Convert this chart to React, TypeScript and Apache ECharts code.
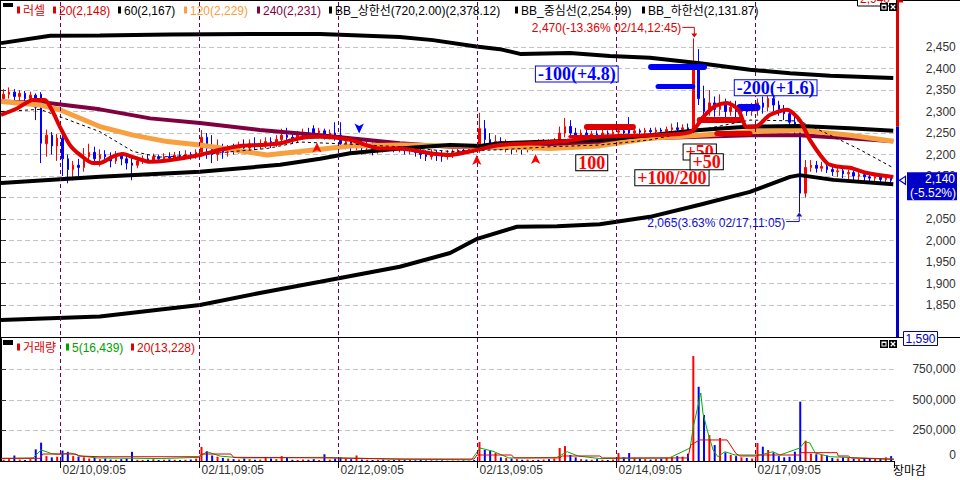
import React, { useEffect, useRef } from 'react';
import * as echarts from 'echarts';

// ---------- layout helpers ----------
const FONT = "'Liberation Sans','Noto Sans CJK KR',sans-serif";
const SERIF = "'Liberation Serif','DejaVu Serif',serif";
const RED = '#ff0000';
const BLUE = '#0000ff';
const NB = 167;

// ---------- categories / days ----------
const PARTIAL_DAY = '02/09';
const PARTIAL_START_MIN = 770; // 12:50
const PARTIAL_BARS = 11;
const DAY_LABELS = ['02/10', '02/11', '02/12', '02/13', '02/14', '02/17'];
const DAY_START_MIN = 545; // 09:05
const BARS_PER_DAY = 26; // 15-minute bars
const DAY_START_IDX = [11, 37, 63, 89, 115, 141];
const HIDDEN_PRICE_LABELS = [2100]; // covered by the current-price box

// ---------- candles [open, close, low, high] ----------
const c0209 = [
  [2330, 2340, 2322, 2352], [2340, 2345, 2330, 2356], [2345, 2335, 2325, 2352], [2335, 2342, 2318, 2350],
  [2342, 2330, 2322, 2348], [2330, 2338, 2315, 2346], [2338, 2310, 2280, 2342], [2340, 2226, 2180, 2345],
  [2225, 2245, 2195, 2258], [2245, 2220, 2200, 2252], [2220, 2238, 2185, 2248],
];
const c0210 = [
  [2238, 2190, 2150, 2245], [2190, 2165, 2133, 2200], [2165, 2175, 2140, 2185], [2175, 2170, 2150, 2190],
  [2170, 2195, 2160, 2215], [2195, 2205, 2180, 2225], [2205, 2190, 2175, 2218], [2190, 2200, 2172, 2212],
  [2200, 2195, 2180, 2210], [2195, 2185, 2170, 2205], [2185, 2200, 2178, 2208], [2200, 2190, 2175, 2205],
  [2190, 2180, 2165, 2200], [2180, 2175, 2140, 2195], [2175, 2185, 2168, 2195], [2185, 2190, 2178, 2198],
  [2190, 2185, 2180, 2200], [2185, 2195, 2180, 2202], [2195, 2190, 2183, 2200], [2190, 2195, 2185, 2203],
  [2195, 2192, 2185, 2205], [2192, 2198, 2186, 2206], [2198, 2195, 2188, 2208], [2195, 2200, 2190, 2210],
  [2200, 2196, 2188, 2206], [2196, 2205, 2190, 2212],
];
const c0211 = [
  [2205, 2240, 2195, 2257], [2240, 2215, 2190, 2250], [2215, 2200, 2180, 2245], [2200, 2215, 2185, 2235],
  [2215, 2205, 2190, 2225], [2205, 2215, 2195, 2222], [2215, 2210, 2200, 2225], [2210, 2220, 2202, 2230],
  [2220, 2215, 2205, 2235], [2215, 2225, 2205, 2235], [2225, 2220, 2210, 2240], [2220, 2225, 2212, 2235],
  [2225, 2230, 2215, 2240], [2230, 2225, 2215, 2240], [2225, 2235, 2218, 2245], [2235, 2245, 2225, 2260],
  [2245, 2240, 2228, 2262], [2240, 2235, 2225, 2250], [2235, 2245, 2228, 2255], [2245, 2250, 2235, 2260],
  [2250, 2245, 2238, 2262], [2260, 2250, 2240, 2268], [2250, 2255, 2240, 2262], [2255, 2245, 2235, 2260],
  [2245, 2250, 2235, 2258], [2250, 2245, 2232, 2275],
];
const c0212 = [
  [2245, 2225, 2215, 2275], [2225, 2230, 2212, 2240], [2230, 2220, 2205, 2238], [2220, 2225, 2210, 2235],
  [2225, 2215, 2200, 2232], [2215, 2220, 2205, 2230], [2220, 2212, 2198, 2228], [2212, 2218, 2202, 2226],
  [2218, 2215, 2205, 2225], [2215, 2220, 2208, 2228], [2220, 2213, 2205, 2226], [2213, 2218, 2205, 2225],
  [2218, 2210, 2200, 2222], [2210, 2215, 2200, 2222], [2215, 2205, 2195, 2220], [2205, 2200, 2190, 2215],
  [2200, 2195, 2185, 2210], [2195, 2205, 2188, 2212], [2205, 2198, 2185, 2210], [2198, 2195, 2183, 2208],
  [2195, 2200, 2188, 2210], [2200, 2205, 2192, 2212], [2205, 2210, 2198, 2218], [2210, 2208, 2200, 2218],
  [2208, 2212, 2202, 2220], [2212, 2210, 2203, 2220],
];
const c0213 = [
  [2210, 2260, 2204, 2297], [2260, 2235, 2220, 2280], [2235, 2225, 2212, 2250], [2225, 2230, 2215, 2245],
  [2230, 2220, 2210, 2240], [2220, 2225, 2205, 2235], [2225, 2218, 2200, 2230], [2218, 2222, 2205, 2232],
  [2222, 2215, 2200, 2230], [2215, 2220, 2205, 2228], [2220, 2225, 2208, 2232], [2225, 2222, 2212, 2235],
  [2222, 2228, 2215, 2236], [2228, 2225, 2218, 2235], [2225, 2230, 2218, 2238], [2230, 2250, 2225, 2265],
  [2250, 2265, 2240, 2285], [2265, 2250, 2238, 2280], [2250, 2245, 2235, 2262], [2245, 2250, 2238, 2258],
  [2250, 2245, 2238, 2258], [2245, 2248, 2238, 2255], [2248, 2245, 2238, 2256], [2245, 2250, 2240, 2258],
  [2250, 2248, 2240, 2256], [2248, 2252, 2242, 2260],
];
const c0214 = [
  [2252, 2255, 2245, 2262], [2255, 2250, 2243, 2265], [2262, 2250, 2245, 2287], [2250, 2255, 2244, 2262],
  [2255, 2252, 2245, 2260], [2252, 2256, 2246, 2262], [2256, 2253, 2247, 2262], [2253, 2257, 2248, 2263],
  [2257, 2254, 2248, 2262], [2254, 2258, 2248, 2265], [2258, 2262, 2250, 2272], [2262, 2258, 2250, 2275],
  [2258, 2262, 2250, 2270], [2262, 2255, 2245, 2272], [2255, 2400, 2240, 2470], [2400, 2330, 2315, 2445],
  [2330, 2300, 2285, 2360], [2300, 2320, 2290, 2350], [2320, 2305, 2288, 2335], [2305, 2315, 2290, 2340],
  [2315, 2300, 2285, 2330], [2300, 2310, 2290, 2325], [2310, 2300, 2285, 2325], [2300, 2305, 2288, 2318],
  [2305, 2300, 2290, 2318], [2300, 2305, 2290, 2320],
];
const c0217 = [
  [2305, 2320, 2290, 2330], [2320, 2310, 2295, 2335], [2310, 2330, 2300, 2343], [2330, 2315, 2300, 2340],
  [2315, 2305, 2290, 2325], [2305, 2295, 2280, 2315], [2295, 2275, 2255, 2300], [2275, 2260, 2245, 2290],
  [2260, 2110, 2065, 2262], [2110, 2170, 2100, 2187], [2170, 2175, 2160, 2187], [2175, 2168, 2158, 2185],
  [2168, 2172, 2160, 2183], [2172, 2165, 2157, 2180], [2165, 2160, 2150, 2175], [2160, 2162, 2148, 2170],
  [2162, 2155, 2145, 2168], [2155, 2158, 2143, 2165], [2158, 2150, 2140, 2163], [2150, 2153, 2138, 2160],
  [2153, 2148, 2135, 2160], [2148, 2145, 2133, 2155], [2145, 2148, 2135, 2155], [2148, 2142, 2130, 2152],
  [2142, 2145, 2132, 2150], [2145, 2140, 2130, 2150],
];

// ---------- volumes ----------
const v0209 = [10000, 15000, 45000, 12000, 8000, 15000, 95000, 150000, 40000, 30000, 35000];
const v0210 = [85000, 75000, 40000, 35000, 30000, 20000, 25000, 15000, 20000, 12000, 10000, 15000, 20000, 75000, 10000, 8000, 10000, 15000, 8000, 10000, 12000, 10000, 8000, 10000, 12000, 20000];
const v0211 = [115000, 80000, 45000, 35000, 25000, 20000, 15000, 12000, 20000, 15000, 10000, 12000, 30000, 20000, 15000, 40000, 25000, 10000, 8000, 12000, 10000, 15000, 8000, 55000, 12000, 20000];
const v0212 = [30000, 20000, 15000, 45000, 12000, 10000, 8000, 10000, 12000, 8000, 10000, 15000, 8000, 10000, 6000, 8000, 5000, 6000, 4000, 5000, 3000, 4000, 3000, 5000, 4000, 8000];
const v0213 = [155000, 90000, 84000, 65000, 30000, 25000, 20000, 15000, 10000, 12000, 8000, 10000, 12000, 15000, 20000, 106000, 122000, 50000, 30000, 15000, 12000, 10000, 15000, 10000, 8000, 12000];
const v0214 = [65000, 30000, 65000, 25000, 20000, 15000, 12000, 15000, 20000, 25000, 30000, 40000, 35000, 60000, 858000, 607000, 376000, 212000, 130000, 188000, 70000, 50000, 40000, 30000, 25000, 20000];
const v0217 = [147000, 117000, 90000, 70000, 40000, 30000, 35000, 76000, 485000, 166000, 60000, 55000, 50000, 45000, 25000, 20000, 30000, 25000, 20000, 15000, 25000, 20000, 15000, 20000, 30000, 40000];

// ---------- indicator lines [barPosition, value] ----------
const ma20 = [[0, 2292], [3.0, 2307], [6.0, 2327], [8.2, 2327], [9.5, 2304], [11.0, 2265], [12.9, 2222], [14.8, 2199], [17.2, 2180], [18.5, 2180], [20.9, 2195], [22.8, 2201], [24.7, 2194], [27.9, 2183], [31.1, 2186], [37.2, 2199], [41.0, 2211], [44.7, 2220], [48.4, 2222], [52.2, 2226], [55.9, 2238], [59.7, 2241], [65.3, 2234], [70.9, 2214], [74.6, 2214], [80.2, 2203], [84.0, 2199], [87.7, 2207], [93.3, 2222], [99.0, 2226], [104.6, 2230], [112.0, 2241], [121.4, 2245], [128.9, 2252], [131.7, 2292], [133.6, 2313], [135.8, 2320], [137.9, 2304], [139.5, 2264], [141.4, 2266], [143.8, 2292], [147.0, 2304], [149.4, 2280], [151.3, 2234], [154.5, 2180], [156.4, 2172], [158.8, 2169], [162.0, 2157], [166.9, 2148]];
const ma60 = [[0, 2300], [7.3, 2305], [11.0, 2288], [18.5, 2253], [24.7, 2207], [29.7, 2194], [37.2, 2199], [43.4, 2207], [49.8, 2214], [55.9, 2229], [65.3, 2224], [74.6, 2218], [84.0, 2207], [93.3, 2211], [102.7, 2218], [112.0, 2222], [121.4, 2234], [130.7, 2257], [140.1, 2280], [149.4, 2278], [155.1, 2245], [160.7, 2211], [166.9, 2169]];
const ma120 = [[0, 2323], [7.3, 2315], [11.0, 2304], [18.5, 2265], [24.7, 2245], [31.1, 2230], [37.2, 2222], [43.4, 2211], [49.8, 2199], [55.9, 2207], [65.3, 2220], [74.6, 2222], [93.3, 2218], [102.7, 2214], [112.0, 2220], [121.4, 2238], [130.7, 2245], [140.1, 2253], [149.4, 2257], [158.8, 2245], [166.9, 2231]];
const ma240 = [[0, 2323], [9.2, 2319], [18.5, 2305], [27.9, 2284], [37.2, 2273], [48.4, 2257], [59.7, 2245], [65.3, 2238], [74.6, 2226], [84.0, 2218], [93.3, 2216], [102.7, 2222], [112.0, 2226], [121.4, 2238], [130.7, 2241], [140.1, 2245], [149.4, 2245], [158.8, 2238], [166.9, 2231]];
const bbUpper = [[0, 2459], [9.2, 2476], [18.5, 2477], [31.6, 2479], [46.6, 2480], [59.7, 2480], [74.6, 2473], [80.8, 2466], [88.9, 2451], [93.3, 2445], [97.1, 2434], [106.4, 2436], [113.9, 2429], [121.4, 2425], [130.7, 2412], [140.1, 2397], [147.6, 2389], [155.1, 2383], [166.9, 2378]];
const bbCenter = [[0, 2134], [18.5, 2148], [37.2, 2160], [52.2, 2176], [59.7, 2190], [65.3, 2203], [74.6, 2214], [84.0, 2222], [89.6, 2220], [93.3, 2226], [102.7, 2230], [112.0, 2234], [121.4, 2245], [130.7, 2257], [140.1, 2265], [149.4, 2266], [158.8, 2261], [166.9, 2255]];
const bbLower = [[0, 1815], [18.5, 1823], [37.2, 1850], [48.4, 1878], [59.7, 1904], [74.6, 1939], [84.0, 1971], [88.9, 2003], [96.5, 2032], [104.0, 2033], [112.0, 2038], [121.4, 2055], [130.7, 2083], [140.1, 2113], [147.6, 2148], [149.4, 2152], [155.7, 2141], [166.9, 2131]];
const volMa5 = [[0, 20000], [6, 25000], [7.5, 90000], [9.5, 60000], [11, 55000], [13, 65000], [15, 40000], [18, 25000], [30, 20000], [37, 30000], [38.5, 76000], [41, 40000], [45, 25000], [60, 30000], [64, 25000], [75, 15000], [88, 10000], [89.6, 106000], [92, 80000], [95, 25000], [104, 30000], [105.9, 76000], [108, 40000], [112, 20000], [125, 25000], [128.9, 106000], [129.5, 280000], [130.2, 417000], [130.9, 556000], [131.3, 392000], [132.1, 253000], [133.2, 90000], [134.1, 35000], [135.4, 76000], [137.3, 49000], [142, 49000], [144.4, 76000], [145.7, 49000], [149.4, 106000], [150.4, 158000], [151.3, 147000], [152.3, 65000], [155.1, 35000], [160.7, 25000], [167, 16439]];
const volMa20 = [[0, 22000], [7.3, 22000], [7.8, 57000], [14, 57000], [14.5, 41000], [18.5, 35000], [37, 35000], [37.5, 57000], [43, 57000], [43.5, 30000], [61.5, 25000], [74.6, 16000], [88.5, 16000], [89, 49000], [95.5, 49000], [96, 25000], [104.5, 25000], [105, 41000], [112, 41000], [112.5, 25000], [128.5, 25000], [129, 130000], [130.7, 172000], [135.8, 172000], [137.5, 60000], [138.2, 41000], [141.4, 41000], [141.6, 49000], [149.4, 49000], [149.6, 68000], [156.4, 68000], [156.6, 41000], [158.5, 41000], [159, 25000], [167, 13228]];

// ---------- annotations ----------
const tradeBoxes = [
  { u: 107.7, p: 2387, text: '-100(+4.8)', color: '#0000ff', border: '#0000ff' },
  { u: 144.9, p: 2355, text: '-200(+1.6)', color: '#0000ff', border: '#0000ff' },
  { u: 110.5, p: 2181, text: '100', color: '#ff0000', border: '#000000' },
  { u: 125.5, p: 2146, text: '+100/200', color: '#ff0000', border: '#000000' },
  { u: 130.7, p: 2206, text: '+50', color: '#ff0000', border: '#000000' },
  { u: 132.0, p: 2183, text: '+50', color: '#ff0000', border: '#000000' },
];
const orderBars = [
  { u0: 121.6, u1: 131.5, p: 2403, color: '#0000ff', width: 6 },
  { u0: 122.9, u1: 129.4, p: 2359, color: '#0000ff', width: 5 },
  { u0: 138.2, u1: 141.4, p: 2311, color: '#0000ff', width: 7 },
  { u0: 109.6, u1: 118.2, p: 2265, color: '#e00000', width: 6 },
  { u0: 106.4, u1: 112.0, p: 2242, color: '#e00000', width: 3 },
  { u0: 130.7, u1: 138.2, p: 2280, color: '#e00000', width: 6 },
  { u0: 133.9, u1: 140.1, p: 2250, color: '#e00000', width: 5 },
];
const signals = [
  { u: 59.1, p: 2228, dir: 'up' },
  { u: 89.0, p: 2199, dir: 'up' },
  { u: 100.0, p: 2201, dir: 'up' },
  { u: 67.0, p: 2249, dir: 'down' },
];
const HIGH = { u: 129.5, p: 2470, text: '2,470(-13.36% 02/14,12:45)' };
const LOW = { u: 149.5, p: 2065, text: '2,065(3.63% 02/17,11:05)' };
const PREV_CLOSE = 2265;
const LAST = { p: 2140, text: '2,140', pct: '(-5.52%)' };
const UPPER_LIMIT = '2,940';
const LOWER_LIMIT = '1,590';

const priceLegend = [
  { text: '러셀', color: '#e00000', x: 17 },
  { text: '20(2,148)', color: '#e00000', x: 53 },
  { text: '60(2,167)', color: '#000000', x: 118 },
  { text: '120(2,229)', color: '#f8a040', x: 184 },
  { text: '240(2,231)', color: '#800040', x: 257 },
  { text: 'BB_상한선(720,2.00)(2,378.12)', color: '#000000', x: 329 },
  { text: 'BB_중심선(2,254.99)', color: '#000000', x: 515 },
  { text: 'BB_하한선(2,131.87)', color: '#000000', x: 642 },
];
const volumeLegend = [
  { text: '거래량', color: '#e00000', x: 17 },
  { text: '5(16,439)', color: '#00a000', x: 66 },
  { text: '20(13,228)', color: '#e00000', x: 131 },
];

// ---------- derived ----------
const fmtTime = (m: number) => `${String(Math.floor(m / 60)).padStart(2, '0')}:${String(m % 60).padStart(2, '0')}`;
const categories: string[] = [];
for (let k = 0; k < PARTIAL_BARS; k++) categories.push(`${PARTIAL_DAY},${fmtTime(PARTIAL_START_MIN + 15 * k)}`);
DAY_LABELS.forEach((d) => {
  for (let k = 0; k < BARS_PER_DAY; k++) categories.push(`${d},${fmtTime(DAY_START_MIN + 15 * k)}`);
});
const candles = [...c0209, ...c0210, ...c0211, ...c0212, ...c0213, ...c0214, ...c0217];
const volumes = [...v0209, ...v0210, ...v0211, ...v0212, ...v0213, ...v0214, ...v0217];
const volumeData = volumes.map((v, i) => ({ value: v, itemStyle: { color: candles[i][1] >= candles[i][0] ? RED : BLUE } }));
const fmtNum = (v: number) => v.toLocaleString('en-US');

const lineSeries = (name: string, data: number[][], color: string, width: number, z: number, extra: any = {}) => ({
  name, type: 'line', xAxisIndex: 1, yAxisIndex: 0, data, symbol: 'none', silent: true, z,
  lineStyle: { color, width, ...(extra.lineStyle || {}) },
});

function buildOption(): any {
  return {
    animation: false,
    backgroundColor: '#ffffff',
    grid: [
      { left: 1, width: 892.8, top: 25.5, height: 301, outerBoundsMode: 'none' },
      { left: 1, width: 892.8, top: 338.7, height: 122.3, outerBoundsMode: 'none' },
      { left: 1, width: 892.8, top: 1, height: 460, outerBoundsMode: 'none' },
    ],
    xAxis: [
      { type: 'category', gridIndex: 0, data: categories, boundaryGap: true, show: false },
      { type: 'value', gridIndex: 0, min: 0, max: NB, show: false },
      {
        type: 'category', gridIndex: 1, data: categories, boundaryGap: true,
        axisLine: { show: true, lineStyle: { color: '#000', width: 1 } },
        axisTick: { show: true, interval: (i: number) => DAY_START_IDX.includes(i), length: 7, lineStyle: { color: '#000' } },
        axisLabel: { show: true, interval: (i: number) => DAY_START_IDX.includes(i), align: 'left', margin: 3, color: '#333', fontSize: 12, fontFamily: FONT },
        splitLine: { show: false },
      },
      { type: 'value', gridIndex: 1, min: 0, max: NB, show: false },
      { type: 'value', gridIndex: 2, min: 0, max: NB, show: false },
    ],
    yAxis: [
      {
        type: 'value', gridIndex: 0, position: 'right', offset: 4, min: 1800, max: 2500, interval: 50,
        axisLine: { show: false },
        axisTick: { show: true, length: 5, lineStyle: { color: '#333' } },
        axisLabel: {
          show: true, align: 'right', margin: 58, color: '#333', fontSize: 12, fontFamily: FONT, showMinLabel: false, showMaxLabel: false,
          formatter: (v: number) => (HIDDEN_PRICE_LABELS.includes(v) ? '' : fmtNum(v)),
        },
        splitLine: { show: true, showMinLine: false, showMaxLine: false, lineStyle: { color: '#c4c4c4', type: [5, 3], width: 1 } },
      },
      {
        type: 'value', gridIndex: 1, position: 'right', offset: 4, min: 0, max: 1000000, interval: 250000,
        axisLine: { show: true, lineStyle: { color: '#000', width: 1 } },
        axisTick: { show: true, length: 5, lineStyle: { color: '#333' } },
        axisLabel: { show: true, align: 'right', margin: 58, color: '#333', fontSize: 12, fontFamily: FONT, showMinLabel: false, showMaxLabel: false, formatter: (v: number) => fmtNum(v) },
        splitLine: { show: true, showMinLine: false, showMaxLine: false, lineStyle: { color: '#c4c4c4', type: [5, 3], width: 1 } },
      },
      { type: 'value', gridIndex: 2, min: 0, max: 1, show: false },
    ],
    series: [
      {
        name: 'candle', type: 'candlestick', xAxisIndex: 0, yAxisIndex: 0, data: candles, barWidth: 2, z: 2, silent: true,
        itemStyle: { color: RED, color0: BLUE, borderColor: RED, borderColor0: BLUE, borderColorDoji: RED, borderWidth: 1 },
      },
      lineSeries('MA240', ma240, '#800040', 4, 3),
      lineSeries('MA120', ma120, '#f8a040', 5, 3),
      lineSeries('BB_lower', bbLower, '#000000', 4, 4),
      lineSeries('BB_center', bbCenter, '#000000', 4, 4),
      lineSeries('BB_upper', bbUpper, '#000000', 4, 4),
      lineSeries('MA60', ma60, '#000000', 1, 5, { lineStyle: { type: [3, 3] } }),
      {
        name: 'MA20', type: 'line', xAxisIndex: 1, yAxisIndex: 0, data: ma20, symbol: 'none', silent: true, z: 6, smooth: 0.25,
        lineStyle: { color: '#e00000', width: 4 },
        markLine: {
          silent: true, symbol: ['none', 'none'], label: { show: false }, animation: false,
          data: orderBars.map((b) => [
            { coord: [b.u0, b.p], lineStyle: { color: b.color, width: b.width, type: 'solid', cap: 'round' } },
            { coord: [b.u1, b.p] },
          ]),
        },
        markPoint: {
          silent: true, animation: false,
          data: [
            ...signals.map((s) => ({
              coord: [s.u, s.p], symbol: 'arrow', symbolSize: [7, 10], symbolRotate: s.dir === 'up' ? 0 : 180,
              itemStyle: { color: s.dir === 'up' ? '#ff0000' : '#0000ff' }, label: { show: false },
            })),
            ...tradeBoxes.map((b) => ({
              coord: [b.u, b.p], symbol: 'rect', symbolSize: [1, 1], itemStyle: { color: 'rgba(0,0,0,0)' },
              label: {
                show: true, position: 'inside', formatter: b.text, color: b.color, fontFamily: SERIF, fontSize: 18, fontWeight: 'bold',
                backgroundColor: '#ffffff', borderColor: b.border, borderWidth: 1, padding: [0, 2, 0, 2], lineHeight: 15,
              },
            })),
          ],
        },
      },
      {
        name: 'volume', type: 'bar', xAxisIndex: 2, yAxisIndex: 1, data: volumeData, barWidth: 2, silent: true, z: 2,
      },
      { name: 'vol5', type: 'line', xAxisIndex: 3, yAxisIndex: 1, data: volMa5, symbol: 'none', silent: true, z: 3, lineStyle: { color: '#00b000', width: 1 } },
      { name: 'vol20', type: 'line', xAxisIndex: 3, yAxisIndex: 1, data: volMa20, symbol: 'none', silent: true, z: 3, lineStyle: { color: '#e00000', width: 1 } },
      {
        name: 'daySep', type: 'line', xAxisIndex: 4, yAxisIndex: 2, data: [[0, 0]], symbol: 'none', silent: true, z: 1,
        lineStyle: { opacity: 0 },
        markLine: {
          silent: true, symbol: ['none', 'none'], label: { show: false }, animation: false,
          lineStyle: { color: '#600060', type: [4, 3], width: 1 },
          data: DAY_START_IDX.map((d) => ({ xAxis: d })),
        },
      },
    ],
  };
}

function buildGraphics(chart: any): any[] {
  const el: any[] = [];
  const Z = 100;
  const yOf = (p: number) => chart.convertToPixel({ yAxisIndex: 0 }, p) as number;
  const at = (u: number, p: number) => chart.convertToPixel({ xAxisIndex: 1, yAxisIndex: 0 }, [u, p]) as number[];
  const text = (x: number, y: number, t: string, fill: string, align = 'left', font = `12px ${FONT}`) => ({
    type: 'text', x, y, z: Z, silent: true,
    style: { text: t, fill, font, textAlign: align, align, textVerticalAlign: 'middle', verticalAlign: 'middle' },
  });
  const rect = (x: number, y: number, w: number, h: number, fill: string | null, stroke: string | null = null, lw = 1) => ({
    type: 'rect', z: Z, silent: true, shape: { x, y, width: w, height: h }, style: { fill: fill || 'none', stroke: stroke || 'none', lineWidth: lw },
  });
  const line = (x1: number, y1: number, x2: number, y2: number, stroke: string, lw = 1) => ({
    type: 'line', z: Z, silent: true, shape: { x1, y1, x2, y2 }, style: { stroke, lineWidth: lw },
  });
  const poly = (points: number[][], stroke: string) => ({ type: 'polyline', z: Z, silent: true, shape: { points }, style: { stroke, fill: 'none', lineWidth: 1 } });
  const tri = (points: number[][], fill: string, stroke: string | null = null) => ({ type: 'polygon', z: Z, silent: true, shape: { points }, style: { fill, stroke: stroke || 'none', lineWidth: 1.2 } });
  const icons = (x: number, y: number) => [
    rect(x, y, 8, 8, '#000'), rect(x + 1.5, y + 1.5, 5, 5, '#fff'), rect(x + 2.5, y + 3, 3, 2.5, '#000'),
    rect(x + 9, y, 8, 8, '#000'),
    line(x + 10.8, y + 1.8, x + 15.2, y + 6.2, '#fff', 1.3), line(x + 15.2, y + 1.8, x + 10.8, y + 6.2, '#fff', 1.3),
  ];

  // frame
  el.push(line(0, 0.5, 960, 0.5, '#000'));
  el.push(line(0.5, 0, 0.5, 462, '#000'));
  el.push(line(0, 337.5, 960, 337.5, '#000'));

  // prev-close colored axis bar
  const pc = yOf(PREV_CLOSE);
  el.push(rect(896, 0, 3, pc, '#e00000'));
  el.push(rect(896, pc, 3, 337 - pc, '#0000c8'));

  // upper-limit label at top
  el.push(rect(857.5, -10, 39, 16, '#fff', '#000'));
  el.push(text(860, -1, UPPER_LIMIT, '#e00000'));
  el.push(line(897, 1.5, 903, 1.5, '#e00000', 2));

  // legends
  el.push(rect(3, 3, 10, 4, '#000'));
  priceLegend.forEach((l) => {
    el.push(rect(l.x, 6.5, 3, 7, l.color));
    el.push(text(l.x + 6, 10.5, l.text, l.color));
  });
  el.push(rect(3, 340, 10, 5, '#000'));
  volumeLegend.forEach((l) => {
    el.push(rect(l.x, 343.5, 3, 7, l.color));
    el.push(text(l.x + 6, 347.5, l.text, l.color));
  });
  el.push(...icons(880, 3));
  el.push(...icons(880, 340));

  // high / low annotations
  const [hx, hy] = at(HIGH.u, HIGH.p);
  el.push(text(hx - 12, hy - 10.5, HIGH.text, '#e00000', 'right'));
  el.push(poly([[hx - 11, hy - 11], [hx + 1, hy - 11], [hx + 1, hy - 4]], '#e00000'));
  el.push(tri([[hx - 2, hy - 5], [hx + 4, hy - 5], [hx + 1, hy - 1]], '#e00000'));
  const [lx, ly] = at(LOW.u, LOW.p);
  el.push(text(lx - 15, ly + 10.5, LOW.text, '#1010d0', 'right'));
  el.push(poly([[lx - 14, ly + 9], [lx - 1, ly + 9], [lx - 1, ly + 4]], '#1010d0'));
  el.push(tri([[lx - 4, ly + 4], [lx + 2, ly + 4], [lx - 1, ly]], '#1010d0'));

  // current price box
  const cp = yOf(LAST.p);
  el.push(rect(907, cp - 8, 50, 28, '#0000c8'));
  el.push(text(955, cp - 1, LAST.text, '#fff', 'right'));
  el.push(text(956, cp + 12.5, LAST.pct, '#fff', 'right'));
  el.push(tri([[899.5, cp], [905.5, cp - 4], [905.5, cp + 4]], '#fff', '#0000c8'));

  // lower limit box
  el.push(rect(903.5, 331.5, 34, 14, '#fff', '#0000c0'));
  el.push(text(920.5, 338.5, LOWER_LIMIT, '#0000c0', 'center'));

  // bottom right texts
  el.push(text(956, 455, '0', '#333', 'right'));
  el.push(text(893, 471, '장마감', '#000'));
  return el;
}

export default function App() {
  const ref = useRef<HTMLDivElement>(null);
  useEffect(() => {
    if (!ref.current) return;
    const chart = echarts.init(ref.current, null, { renderer: 'svg' });
    chart.setOption(buildOption());
    chart.setOption({ graphic: { elements: buildGraphics(chart) } });
    return () => chart.dispose();
  }, []);
  return (
    <div
      ref={ref}
      style={{ position: 'fixed', left: 0, top: 0, width: 960, height: 480, background: '#fff' }}
    />
  );
}
